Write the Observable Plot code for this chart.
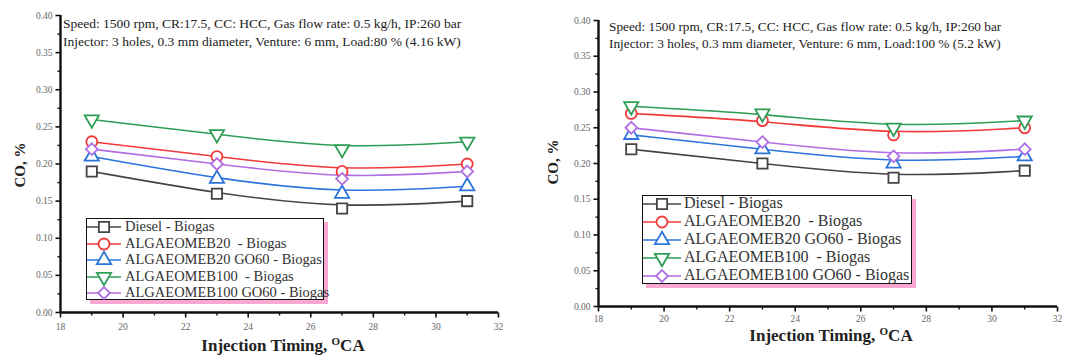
<!DOCTYPE html>
<html><head><meta charset="utf-8">
<script src="https://cdn.jsdelivr.net/npm/d3@7"></script>
<script src="https://cdn.jsdelivr.net/npm/@observablehq/plot@0.6"></script>
<style>
body{margin:0;background:#fff;}
#wrap{position:relative;width:1067px;height:358px;overflow:hidden;font-family:"Liberation Serif","Times New Roman",serif;}
.panel{position:absolute;top:0;}
.note{position:absolute;white-space:pre;color:#222;font-size:13.5px;line-height:17.5px;font-family:"Liberation Serif",serif;}
.ytitle{position:absolute;font-weight:bold;white-space:pre;color:#222;font-size:15px;transform:translate(-50%,-50%) rotate(-90deg);}
.xtitle{position:absolute;font-weight:bold;white-space:pre;color:#222;font-size:17px;transform:translateX(-50%);}
.xtitle sup{font-size:11px;vertical-align:6px;line-height:0;}
.legend{position:absolute;border:1.5px solid #111;background:#fff;box-shadow:4px 4px 0 #f7a8d2;box-sizing:border-box;}
.lrow{position:absolute;left:0;white-space:pre;color:#333;font-family:"Liberation Serif",serif;}
.lrow svg{position:absolute;left:0;top:0;overflow:visible;}
.lrow span{position:absolute;top:0;}
</style></head>
<body><div id="wrap"></div>
<script>
// ---- data ----
const timing = [19, 23, 27, 31];
const seriesNames = ["Diesel - Biogas", "ALGAEOMEB20  - Biogas", "ALGAEOMEB20 GO60 - Biogas", "ALGAEOMEB100  - Biogas", "ALGAEOMEB100 GO60 - Biogas"];
const colors = ["#444444", "#f03a3a", "#2a74dc", "#2e9e55", "#b06ee4"];
const xTicks = [18, 20, 22, 24, 26, 28, 30, 32];
const xMinor = [19, 21, 23, 25, 27, 29, 31];
const yTicks = [0, 0.05, 0.10, 0.15, 0.20, 0.25, 0.30, 0.35, 0.40];
const yMinor = [0.025, 0.075, 0.125, 0.175, 0.225, 0.275, 0.325, 0.375];

// Load 80 %
const co80Diesel   = [0.19, 0.16, 0.14, 0.15];
const co80B20      = [0.23, 0.21, 0.19, 0.20];
const co80B20GO60  = [0.21, 0.18, 0.16, 0.17];
const co80B100     = [0.26, 0.24, 0.22, 0.23];
const co80B100GO60 = [0.22, 0.20, 0.18, 0.19];
// Load 100 %
const co100Diesel   = [0.22, 0.20, 0.18, 0.19];
const co100B20      = [0.27, 0.26, 0.24, 0.25];
const co100B20GO60  = [0.24, 0.22, 0.20, 0.21];
const co100B100     = [0.28, 0.27, 0.25, 0.26];
const co100B100GO60 = [0.25, 0.23, 0.21, 0.22];

const note80 = ["Speed: 1500 rpm, CR:17.5, CC: HCC, Gas flow rate: 0.5 kg/h, IP:260 bar", "Injector: 3 holes, 0.3 mm diameter, Venture: 6 mm, Load:80 % (4.16 kW)"];
const note100 = ["Speed: 1500 rpm, CR:17.5, CC: HCC, Gas flow rate: 0.5 kg/h, IP:260 bar", "Injector: 3 holes, 0.3 mm diameter, Venture: 6 mm, Load:100 % (5.2 kW)"];

// ---- symbols ----
const triDown = {draw(ctx, size) {
  const y = -Math.sqrt(size / (Math.sqrt(3) * 3));
  ctx.moveTo(0, -2 * y); ctx.lineTo(Math.sqrt(3) * y, y); ctx.lineTo(-Math.sqrt(3) * y, y); ctx.closePath();
}};
const symbols = ["square", "circle", "triangle", triDown, "diamond2"];
const d3Symbols = [d3.symbolSquare, d3.symbolCircle, d3.symbolTriangle, triDown, d3.symbolDiamond2];
const radii = [5.8, 5.5, 5.3, 5.3, 5.3];
const tickSym = (len, dir) => ({draw(ctx) { ctx.moveTo(0, 0); if (dir === "down") ctx.lineTo(0, len); else ctx.lineTo(-len, 0); }});

function panel(values, o) {
  const marks = [];
  marks.push(Plot.ruleY([0], {stroke: "#111", strokeWidth: 2.4}));
  marks.push(Plot.ruleX([18], {stroke: "#111", strokeWidth: 2.4}));
  marks.push(Plot.dot(xTicks, {x: d => d, y: 0, symbol: tickSym(5, "down"), stroke: "#111", fill: "none", strokeWidth: 1.6}));
  marks.push(Plot.dot(xMinor, {x: d => d, y: 0, symbol: tickSym(3, "down"), stroke: "#111", fill: "none", strokeWidth: 1.4}));
  marks.push(Plot.dot(yTicks, {x: 18, y: d => d, symbol: tickSym(5, "left"), stroke: "#111", fill: "none", strokeWidth: 1.6}));
  marks.push(Plot.dot(yMinor, {x: 18, y: d => d, symbol: tickSym(3, "left"), stroke: "#111", fill: "none", strokeWidth: 1.4}));
  marks.push(Plot.text(xTicks, {x: d => d, y: 0, dy: o.xLabelDy, text: d => String(d), fontSize: 9.5, fill: "#666", fontFamily: "Liberation Serif"}));
  marks.push(Plot.text(yTicks, {x: 18, y: d => d, dx: -8, textAnchor: "end", text: d => d.toFixed(2), fontSize: 9.5, fill: "#666", fontFamily: "Liberation Serif"}));
  values.forEach((vals, i) => {
    const rows = timing.map((t, j) => ({t, v: vals[j]}));
    marks.push(Plot.line(rows, {x: "t", y: "v", stroke: colors[i], strokeWidth: 1.6, curve: "basis"}));
  });
  values.forEach((vals, i) => {
    const rows = timing.map((t, j) => ({t, v: vals[j]}));
    marks.push(Plot.dot(rows, {x: "t", y: "v", symbol: symbols[i], r: radii[i], stroke: colors[i], fill: "white", strokeWidth: 1.8}));
  });
  return Plot.plot({
    width: o.width, height: 358,
    marginLeft: o.ml, marginRight: o.mr, marginTop: o.mt, marginBottom: o.mb,
    x: {domain: [18, 32], axis: null},
    y: {domain: [0, 0.4], axis: null},
    style: {background: "transparent", overflow: "visible"},
    marks
  });
}

const wrap = document.getElementById("wrap");
function addPanel(values, notes, o) {
  const svg = panel(values, o);
  svg.classList.add("panel");
  svg.style.left = o.left + "px";
  wrap.appendChild(svg);
  notes.forEach((t, i) => {
    const d = document.createElement("div");
    d.className = "note"; d.textContent = t;
    d.style.left = o.noteX + "px"; d.style.top = (o.noteY + i * o.noteGap) + "px";
    d.style.fontSize = o.noteSize + "px";
    wrap.appendChild(d);
  });
  const yt = document.createElement("div");
  yt.className = "ytitle"; yt.textContent = "CO, %";
  yt.style.left = o.ytX + "px"; yt.style.top = o.ytY + "px";
  wrap.appendChild(yt);
  const xt = document.createElement("div");
  xt.className = "xtitle"; xt.innerHTML = "Injection Timing, <sup>O</sup>CA";
  xt.style.left = o.xtX + "px"; xt.style.top = o.xtY + "px";
  wrap.appendChild(xt);
  const lg = document.createElement("div");
  lg.className = "legend";
  Object.assign(lg.style, {left: o.lg.x + "px", top: o.lg.y + "px", width: o.lg.w + "px", height: o.lg.h + "px"});
  seriesNames.forEach((name, i) => {
    const row = document.createElement("div");
    row.className = "lrow";
    row.style.top = (o.lg.rowY0 + i * o.lg.rowGap) + "px";
    row.style.fontSize = o.lg.font + "px";
    const s = d3.create("svg").attr("width", o.lg.lineW).attr("height", 1);
    s.append("line").attr("x1", 0).attr("x2", o.lg.lineW).attr("y1", 0).attr("y2", 0).attr("stroke", colors[i]).attr("stroke-width", 1.6);
    s.append("path").attr("d", d3.symbol(d3Symbols[i], Math.PI * radii[i] * radii[i])()).attr("transform", `translate(${o.lg.lineW / 2},0)`).attr("fill", "white").attr("stroke", colors[i]).attr("stroke-width", 1.8);
    row.appendChild(s.node());
    const sp = document.createElement("span");
    sp.textContent = name;
    sp.style.left = o.lg.textX + "px";
    sp.style.top = (-o.lg.font * 0.6) + "px";
    row.appendChild(sp);
    lg.appendChild(row);
  });
  wrap.appendChild(lg);
}

addPanel([co80Diesel, co80B20, co80B20GO60, co80B100, co80B100GO60], note80, {
  left: 0, width: 533, ml: 60, mr: 35, mt: 15, mb: 46, xLabelDy: 14,
  noteX: 63, noteY: 15, noteGap: 18, noteSize: 13.5,
  ytX: 20, ytY: 165, xtX: 283, xtY: 336,
  lg: {x: 86, y: 218, w: 238, h: 82, rowY0: 8, rowGap: 16.5, font: 14.5, lineW: 34, textX: 38}
});
addPanel([co100Diesel, co100B20, co100B20GO60, co100B100, co100B100GO60], note100, {
  left: 533, width: 534, ml: 65, mr: 10, mt: 20, mb: 52, xLabelDy: 12,
  noteX: 609, noteY: 18, noteGap: 17, noteSize: 13.3,
  ytX: 553, ytY: 162, xtX: 831, xtY: 326,
  lg: {x: 642, y: 195, w: 270, h: 89, rowY0: 8, rowGap: 18, font: 16, lineW: 38, textX: 41}
});
</script></body></html>
